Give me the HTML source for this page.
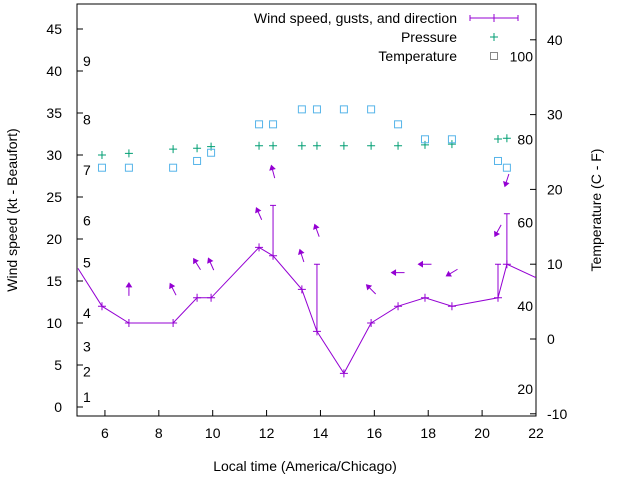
<!DOCTYPE html>
<html><head><meta charset="utf-8"><style>
body{margin:0;background:#fff}
svg text{font-family:"Liberation Sans",sans-serif;font-size:14px;fill:#000}
</style></head><body>
<svg id="c" width="640" height="480" viewBox="0 0 640 480"></svg>
<script>
const times=[5.0,5.89,6.89,8.53,9.42,9.94,11.72,12.24,13.31,13.87,14.87,15.88,16.88,17.88,18.88,20.59,20.92,22.0];
const windSpeed=[16.5,12,10,10,13,13,19,18,14,9,4,10,12,13,12,13,17,15.4];
const gustTimes=[12.24,13.87,20.59,20.92];
const gustLow=[18,9,13,17];
const gustHigh=[24,17,17,23];
const arrowTimes=[6.89,8.53,9.42,9.94,11.72,12.24,13.31,13.87,15.88,16.88,17.88,18.88,20.59,20.92];
const arrowLevel=[14,14,17,17,23,28,18,21,14,16,17,16,21,27];
const windDir=[0,333,328,336,336,345,342,340,315,270,270,239,209,198];
const obsTimes=[5.89,6.89,8.53,9.42,9.94,11.72,12.24,13.31,13.87,14.87,15.88,16.88,17.88,18.88,20.59,20.92];
const pressure=[30.0,30.2,30.7,30.8,31.0,31.1,31.1,31.1,31.1,31.1,31.1,31.1,31.2,31.3,31.9,32.0];
const tempC=[22.9,22.9,22.9,23.8,24.9,28.7,28.7,30.7,30.7,30.7,30.7,28.7,26.7,26.7,23.8,22.9];
const xTicks=[6,8,10,12,14,16,18,20,22];
const yTicks=[0,5,10,15,20,25,30,35,40,45];
const y2Ticks=[-10,0,10,20,30,40];
const beaufortLabels=["1","2","3","4","5","6","7","8","9"];
const beaufortPos=[1.2,4.2,7.2,11.2,17.2,22.2,28.2,34.2,41.2];
const fahrLabels=["20","40","60","80","100"];
const fahrVals=[-6.67,4.44,15.56,26.67,37.78];

const L=77,R=536,T=4,B=416;
const X=h=>78+(h-5)*26.94;
const Y=v=>407-v*8.4;
const Y2=c=>339-c*7.48;
const svg=document.getElementById('c');
const NS='http://www.w3.org/2000/svg';
function mk(tag,attrs,txt){const e=document.createElementNS(NS,tag);for(const k in attrs)e.setAttribute(k,attrs[k]);if(txt!==undefined)e.textContent=txt;svg.appendChild(e);return e;}

let e;
e=mk('rect',{x:L,y:T,width:R-L,height:B-T,fill:'none',stroke:'#000','stroke-width':1});


xTicks.forEach(t=>{
 e=mk('line',{x1:X(t),x2:X(t),y1:B,y2:B-6,stroke:'#000'});
 
 
 e=mk('text',{x:X(t),y:B+22,'text-anchor':'middle'},String(t));
 
 
});
yTicks.forEach(t=>{
 e=mk('line',{x1:L,x2:L+6,y1:Y(t),y2:Y(t),stroke:'#000'});
 
 
 e=mk('text',{x:62,y:Y(t)+5,'text-anchor':'end'},String(t));
 
 
});
y2Ticks.forEach(t=>{
 e=mk('line',{x1:R,x2:R-6,y1:Y2(t),y2:Y2(t),stroke:'#000'});
 
 
 e=mk('text',{x:547,y:Y2(t)+5,'text-anchor':'start'},String(t));
 
 
});
beaufortLabels.forEach((s,i)=>{
 e=mk('text',{x:83,y:Y(beaufortPos[i])+5},s);
 
 
});
fahrLabels.forEach((s,i)=>{
 e=mk('text',{x:533,y:Y2(fahrVals[i])+5,'text-anchor':'end'},s);
 
 
});
e=mk('text',{x:305,y:471,'text-anchor':'middle'},'Local time (America/Chicago)');


e=mk('text',{x:0,y:0,'text-anchor':'middle',transform:'translate(17,210) rotate(-90)'},'Wind speed (kt - Beaufort)');


e=mk('text',{x:0,y:0,'text-anchor':'middle',transform:'translate(601,210) rotate(-90)'},'Temperature (C - F)');



const purple='#9400d3',green='#009e73',cyan='#56b4e9';
const defs=mk('defs',{});
const cp=document.createElementNS(NS,'clipPath');cp.setAttribute('id','pc');
const cr=document.createElementNS(NS,'rect');cr.setAttribute('x',L);cr.setAttribute('y',T);cr.setAttribute('width',R-L);cr.setAttribute('height',B-T);
cp.appendChild(cr);defs.appendChild(cp);

e=mk('polyline',{points:times.map((t,i)=>X(t)+','+Y(windSpeed[i])).join(' '),fill:'none',stroke:purple,'stroke-width':1,'clip-path':'url(#pc)'});


times.forEach((t,i)=>{
 if(t<=5||t>=22) return;
 const x=X(t),y=Y(windSpeed[i]);
 e=mk('path',{d:`M${x-4},${y}h8M${x},${y-4}v8`,stroke:purple,'clip-path':'url(#pc)'});
 
 
});
gustTimes.forEach((t,i)=>{
 const x=X(t);
 e=mk('path',{d:`M${x},${Y(gustLow[i])}V${Y(gustHigh[i])}M${x-3},${Y(gustHigh[i])}h6`,stroke:purple});
 
 
});
arrowTimes.forEach((t,i)=>{
 const cx=X(t),cy=Y(arrowLevel[i]);const a=windDir[i]*Math.PI/180;
 const dx=Math.sin(a),dy=-Math.cos(a),len=13;
 const x1=cx-dx*len/2,y1=cy-dy*len/2,x2=cx+dx*len/2,y2=cy+dy*len/2;
 const px=-dy,py=dx;
 const hx=x2-dx*4,hy=y2-dy*4;
 e=mk('path',{d:`M${x1},${y1}L${x2},${y2}M${x2},${y2}L${hx+px*2.5},${hy+py*2.5}L${hx-px*2.5},${hy-py*2.5}Z`,stroke:purple,fill:purple,'stroke-width':1});
 
 
});
obsTimes.forEach((t,i)=>{
 const x=X(t),y=Y(pressure[i]);
 e=mk('path',{d:`M${x-4},${y}h8M${x},${y-4}v8`,stroke:green});
 
 
 const y2=Y2(tempC[i]);
 e=mk('rect',{x:x-3.5,y:y2-3.5,width:7,height:7,fill:'none',stroke:cyan,'stroke-width':1});
 
 
});
e=mk('text',{x:457,y:23,'text-anchor':'end'},'Wind speed, gusts, and direction');


e=mk('path',{d:'M470,18H518M470,15v6M518,15v6M494,14v8',stroke:purple});


e=mk('text',{x:457,y:42,'text-anchor':'end'},'Pressure');


e=mk('path',{d:'M490,37h8M494,33v8',stroke:green});


e=mk('text',{x:457,y:61,'text-anchor':'end'},'Temperature');


e=mk('rect',{x:490.5,y:52.5,width:7,height:7,fill:'none',stroke:'#888'});


</script>
</body></html>
